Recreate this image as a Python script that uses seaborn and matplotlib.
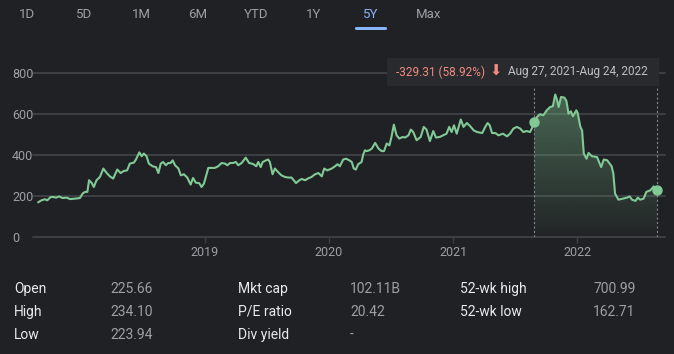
import matplotlib
matplotlib.use("Agg")
import matplotlib.pyplot as plt
import matplotlib.dates as mdates
from matplotlib.patches import Rectangle, FancyBboxPatch
from matplotlib.colors import to_rgb
import seaborn as sns
import numpy as np
import pandas as pd

# ---- data ----
dates = [
    # 2017
    "2017-08-28", "2017-09-07", "2017-09-17", "2017-09-24", "2017-10-04", "2017-10-12",
    "2017-10-20", "2017-10-29", "2017-11-08", "2017-11-20", "2017-11-30", "2017-12-14",
    "2017-12-29",
    # 2018
    "2018-01-06", "2018-01-13", "2018-01-20", "2018-01-25", "2018-02-02", "2018-02-08",
    "2018-02-16", "2018-02-26", "2018-03-08", "2018-03-18", "2018-03-27", "2018-04-06",
    "2018-04-18", "2018-04-28", "2018-05-07", "2018-05-17", "2018-05-25", "2018-06-06",
    "2018-06-12", "2018-06-22", "2018-06-29", "2018-07-05", "2018-07-13", "2018-07-20",
    "2018-07-31", "2018-08-10", "2018-08-17", "2018-08-24", "2018-08-31", "2018-09-08",
    "2018-09-15", "2018-09-22", "2018-09-28", "2018-10-05", "2018-10-15", "2018-10-22",
    "2018-10-31", "2018-11-10", "2018-11-20", "2018-11-27", "2018-12-05", "2018-12-15",
    "2018-12-22", "2018-12-29",
    # 2019
    "2019-01-11", "2019-01-21", "2019-01-30", "2019-02-09", "2019-02-19", "2019-03-01",
    "2019-03-08", "2019-03-16", "2019-03-25", "2019-04-02", "2019-04-09", "2019-04-19",
    "2019-05-01", "2019-05-11", "2019-05-23", "2019-06-01", "2019-06-07", "2019-06-14",
    "2019-06-20", "2019-06-30", "2019-07-06", "2019-07-11", "2019-07-19", "2019-07-26",
    "2019-08-04", "2019-08-14", "2019-08-24", "2019-09-03", "2019-09-13", "2019-09-26",
    "2019-10-06", "2019-10-13", "2019-10-23", "2019-11-01", "2019-11-11", "2019-11-21",
    "2019-12-01", "2019-12-11", "2019-12-18", "2019-12-27",
    # 2020
    "2020-01-09", "2020-01-19", "2020-01-26", "2020-02-02", "2020-02-12", "2020-02-20",
    "2020-03-01", "2020-03-08", "2020-03-14", "2020-03-20", "2020-03-27", "2020-04-06",
    "2020-04-11", "2020-04-16", "2020-04-21", "2020-04-29", "2020-05-06", "2020-05-16",
    "2020-05-26", "2020-06-04", "2020-06-11", "2020-06-19", "2020-06-27", "2020-07-03",
    "2020-07-10", "2020-07-18", "2020-07-26", "2020-08-05", "2020-08-12", "2020-08-22",
    "2020-08-29", "2020-09-05", "2020-09-15", "2020-09-27", "2020-10-06", "2020-10-14",
    "2020-10-24", "2020-11-03", "2020-11-11", "2020-11-22", "2020-12-02", "2020-12-12",
    "2020-12-20", "2020-12-27",
    # 2021
    "2021-01-03", "2021-01-11", "2021-01-23", "2021-01-31", "2021-02-10", "2021-02-20",
    "2021-03-02", "2021-03-12", "2021-03-27", "2021-04-05", "2021-04-12", "2021-04-18",
    "2021-04-25", "2021-05-05", "2021-05-14", "2021-05-27", "2021-06-08", "2021-06-17",
    "2021-06-27", "2021-07-07", "2021-07-17", "2021-07-26", "2021-08-05", "2021-08-15",
    "2021-08-20", "2021-08-27", "2021-09-04", "2021-09-13", "2021-09-23", "2021-10-03",
    "2021-10-13", "2021-10-21", "2021-10-28", "2021-11-02", "2021-11-07", "2021-11-14",
    "2021-11-24", "2021-11-30", "2021-12-06", "2021-12-13", "2021-12-19", "2021-12-29",
    # 2022
    "2022-01-02", "2022-01-10", "2022-01-15", "2022-01-20", "2022-01-28", "2022-02-03",
    "2022-02-13", "2022-02-28", "2022-03-12", "2022-03-20", "2022-03-30", "2022-04-12",
    "2022-04-17", "2022-04-22", "2022-05-02", "2022-05-15", "2022-05-27", "2022-06-04",
    "2022-06-11", "2022-06-21", "2022-06-28", "2022-07-05", "2022-07-15", "2022-07-23",
    "2022-08-04", "2022-08-14", "2022-08-19", "2022-08-24",
]
prices = [
    # 2017
    169, 179, 184, 179, 195, 195,
    192, 198, 190, 192, 185, 187,
    190,
    # 2018
    212, 220, 220, 277, 263, 244,
    277, 293, 334, 312, 296, 285,
    329, 312, 322, 325, 358, 363,
    378, 413, 394, 407, 395, 358,
    345, 341, 312, 358, 366, 350,
    361, 361, 374, 350, 334, 301,
    306, 290, 256, 288, 265, 263,
    244, 260,
    # 2019
    337, 337, 337, 345, 361, 358,
    350, 361, 361, 366, 350, 361,
    387, 361, 356, 345, 366, 341,
    366, 374, 378, 366, 306, 334,
    317, 301, 293, 290, 290, 263,
    277, 283, 277, 286, 293, 306,
    312, 296, 334, 325,
    # 2020
    334, 345, 355, 345, 378, 382,
    374, 366, 334, 329, 355, 366,
    403, 423, 419, 423, 431, 459,
    431, 419, 419, 456, 447, 488,
    548, 496, 480, 488, 485, 496,
    524, 512, 472, 488, 537, 524,
    468, 517, 485, 488, 496, 504,
    537, 512,
    # 2021
    545, 504, 573, 537, 556, 540,
    520, 512, 507, 537, 556, 545,
    507, 507, 496, 504, 491, 504,
    529, 537, 529, 512, 517, 512,
    529, 558.92, 585, 599, 594, 618,
    634, 638, 695, 670, 634, 683,
    680, 663, 602, 613, 589, 618,
    # 2022
    605, 537, 520, 407, 382, 410,
    394, 390, 341, 378, 374, 345,
    309, 212, 182, 187, 192, 198,
    182, 176, 192, 182, 187, 220,
    228, 247, 236, 229.61,
]

range_start = "2021-08-27"
range_end = "2022-08-24"
change_text = "-329.31 (58.92%)"
range_text = "Aug 27, 2021-Aug 24, 2022"

y_ticks = [0, 200, 400, 600, 800]
year_ticks = ["2019", "2020", "2021", "2022"]

tabs = ["1D", "5D", "1M", "6M", "YTD", "1Y", "5Y", "Max"]
active_tab = "5Y"

stat_labels = [["Open", "High", "Low"],
               ["Mkt cap", "P/E ratio", "Div yield"],
               ["52-wk high", "52-wk low"]]
stat_values = [["225.66", "234.10", "223.94"],
               ["102.11B", "20.42", "-"],
               ["700.99", "162.71"]]

# ---- colours ----
BG = "#202124"
GRID = "#3c4043"
GREEN = "#81c995"
GREY = "#9aa0a6"
LIGHT = "#e8eaed"
BLUE = "#8ab4f8"
RED = "#f28b82"

sns.set_theme(style="dark")
plt.rcParams["font.family"] = ["Roboto", "DejaVu Sans"]

W, H = 674, 354
fig = plt.figure(figsize=(W / 100, H / 100), dpi=100, facecolor=BG)


def fx(px):
    return px / W


def fy(py):
    return 1 - py / H


# chart axes: x from 33 to 665 px, y from 237 (value 0) to 70 px
ax = fig.add_axes([fx(33), fy(237), fx(665) - fx(33), fy(70) - fy(237)])
ax.set_facecolor(BG)

df = pd.DataFrame({"date": pd.to_datetime(dates), "price": prices})

ymax = 800 * (237 - 70) / (237 - 73)
xlim = (pd.Timestamp("2017-08-13"), pd.Timestamp("2022-09-16"))

for v in y_ticks:
    ax.axhline(v, color=GRID, lw=1.4, zorder=0, clip_on=False)

sns.lineplot(data=df, x="date", y="price", ax=ax, color=GREEN, lw=1.5, zorder=3)

# gradient under the selected range
start, end = pd.Timestamp(range_start), pd.Timestamp(range_end)
sub = df[(df.date >= start) & (df.date <= end)]
poly = ax.fill_between(sub.date, sub.price, 0, facecolor="none", edgecolor="none")
grad = np.zeros((256, 1, 4))
grad[..., :3] = to_rgb(GREEN)
grad[:, 0, 3] = np.linspace(0.02, 0.42, 256)
im = ax.imshow(grad, extent=[mdates.date2num(start), mdates.date2num(end), 0, 700],
               origin="lower", aspect="auto", zorder=2)
im.set_clip_path(poly.get_paths()[0], transform=ax.transData)

# dotted range markers
for d in (start, end):
    ax.axvline(d, ymin=0, ymax=(237 - 88) / (237 - 70), color="#80868b",
               lw=0.8, ls=(0, (2, 2)), zorder=2)
ax.plot([start, end], [sub.price.iloc[0], sub.price.iloc[-1]], "o",
        ms=6.5, color=GREEN, zorder=4, clip_on=False)

ax.set_xlim(*xlim)
ax.set_ylim(0, ymax)
ax.set_xlabel("")
ax.set_ylabel("")
for s in ax.spines.values():
    s.set_visible(False)

ax.set_yticks(y_ticks)
ax.set_yticklabels([str(v) for v in y_ticks])
ax.tick_params(axis="y", length=0, pad=15, labelsize=9, labelcolor=GREY)
for t in ax.get_yticklabels():
    t.set_horizontalalignment("left")

ax.set_xticks([pd.Timestamp(f"{y}-01-01") for y in year_ticks])
ax.set_xticklabels(year_ticks)
ax.tick_params(axis="x", length=4.5, width=1, color=GRID, pad=2,
               labelsize=9, labelcolor=GREY, bottom=True)
ax.grid(False)

# tooltip box
fig.add_artist(Rectangle((fx(387), fy(86)), fx(659) - fx(387), fy(58) - fy(86),
                         transform=fig.transFigure, facecolor="#292a2d",
                         edgecolor="none", zorder=5))
fig.text(fx(396), fy(72), change_text, color=RED, fontsize=8.5, va="center", zorder=6)
fig.text(fx(496), fy(71.5), "\u2b07", color=RED, fontsize=10.5,
         ha="center", va="center", family=["DejaVu Sans"], zorder=6)
fig.text(fx(508), fy(72), range_text, color="#bdc1c6", fontsize=8.5, va="center", zorder=6)

# range tabs
tab_x = [27, 84, 141, 198, 256, 314, 371, 429]
for name, x in zip(tabs, tab_x):
    col = BLUE if name == active_tab else GREY
    fig.text(fx(x), fy(15), name, color=col, fontsize=9.5, ha="center", va="center")
    if name == active_tab:
        fig.add_artist(FancyBboxPatch((fx(x - 16), fy(30)), fx(32), fy(27) - fy(30),
                                      boxstyle="round,pad=0,rounding_size=0.003",
                                      transform=fig.transFigure, facecolor=BLUE,
                                      edgecolor="none"))

# stats table
label_x = [14, 238, 460]
value_x = [110, 350, 593]
row_y = [289, 312, 335]
for col in range(3):
    for row, (lab, val) in enumerate(zip(stat_labels[col], stat_values[col])):
        fig.text(fx(label_x[col]), fy(row_y[row]), lab, color=LIGHT, fontsize=10, va="center")
        fig.text(fx(value_x[col]), fy(row_y[row]), val, color=GREY, fontsize=10, va="center")

fig.savefig("out.png", dpi=100, facecolor=BG)
